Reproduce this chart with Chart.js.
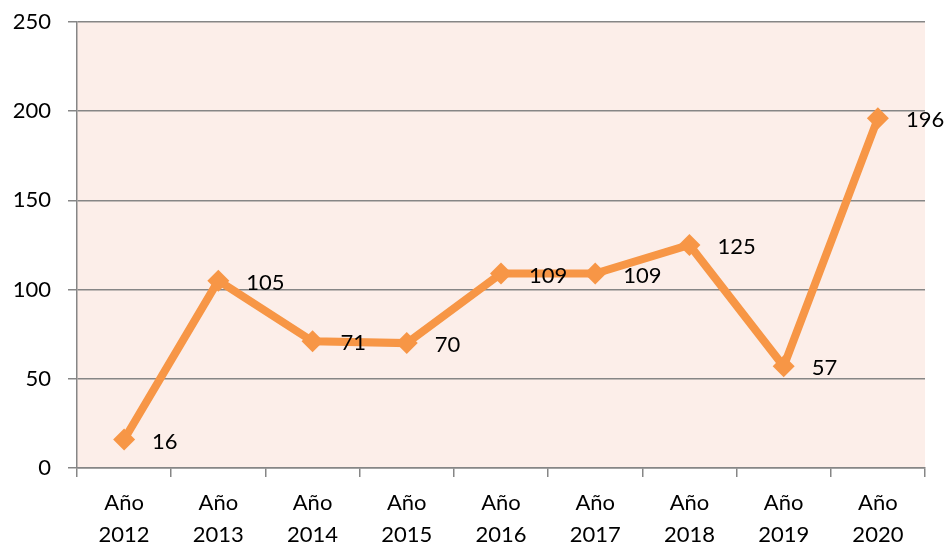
<!DOCTYPE html>
<html>
<head>
<meta charset="utf-8">
<script src="https://cdn.jsdelivr.net/npm/chart.js@4"></script>
<style>
  html, body { margin: 0; padding: 0; background: #fff; }
  #wrap { width: 950px; height: 550px; }
</style>
</head>
<body>
<div id="wrap"><canvas id="chart"></canvas></div>
<script>
// Datos del gráfico
const years = ["2012", "2013", "2014", "2015", "2016", "2017", "2018", "2019", "2020"];
const values = [16, 105, 71, 70, 109, 109, 125, 57, 196];
const yTicks = [0, 50, 100, 150, 200, 250];

const labels = years.map((y) => ["Año", y]);
const fontFamily = "Lato, 'Noto Sans', sans-serif";

// Fondo del área de trazado
const plotBackground = {
    id: "plotBackground",
    beforeDraw(chart) {
        const { ctx, chartArea } = chart;
        ctx.save();
        ctx.fillStyle = "#FCEEE9";
        ctx.fillRect(chartArea.left, chartArea.top, chartArea.right - chartArea.left, chartArea.bottom - chartArea.top);
        ctx.restore();
    },
};

// Etiquetas de valor a la derecha de cada punto
const valueLabels = {
    id: "valueLabels",
    afterDatasetsDraw(chart) {
        const { ctx } = chart;
        const meta = chart.getDatasetMeta(0);
        ctx.save();
        ctx.font = "22px " + fontFamily;
        ctx.fillStyle = "#000";
        ctx.textAlign = "left";
        ctx.textBaseline = "middle";
        meta.data.forEach((pt, i) => {
            ctx.fillText(String(values[i]), pt.x + 28, pt.y + 2);
        });
        ctx.restore();
    },
};

new Chart(document.getElementById("chart").getContext("2d"), {
    type: "line",
    data: {
        labels: labels,
        datasets: [
            {
                data: values,
                borderColor: "#F79646",
                backgroundColor: "#F79646",
                borderWidth: 8,
                pointStyle: "rectRot",
                pointRadius: 11,
                pointHoverRadius: 11,
                pointBorderWidth: 0,
                tension: 0,
            },
        ],
    },
    options: {
        responsive: true,
        maintainAspectRatio: false,
        animation: false,
        layout: { padding: { top: 22, right: 25, left: 0, bottom: 0 } },
        plugins: {
            legend: { display: false },
            tooltip: { enabled: false },
        },
        scales: {
            x: {
                offset: true,
                grid: {
                    offset: true,
                    drawOnChartArea: false,
                    drawTicks: true,
                    tickLength: 9,
                    color: "#868686",
                    lineWidth: 1.5,
                },
                border: { color: "#868686", width: 1.5 },
                ticks: {
                    color: "#000",
                    font: { size: 22, family: fontFamily, lineHeight: 1.45 },
                    maxRotation: 0,
                    padding: 10,
                },
                afterFit(scale) {
                    scale.height = 82;
                    scale.paddingTop = 0;
                },
            },
            y: {
                min: 0,
                max: 250,
                afterBuildTicks(scale) { scale.ticks = yTicks.map((v) => ({ value: v })); },
                grid: {
                    color: "#868686",
                    lineWidth: 1.5,
                    tickLength: 9,
                },
                border: { color: "#868686", width: 1.5 },
                ticks: {
                    color: "#000",
                    font: { size: 22, family: fontFamily },
                    padding: 17,
                },
                afterFit(scale) {
                    scale.width = 77;
                    scale.paddingTop = 0;
                    scale.paddingBottom = 0;
                },
            },
        },
    },
    plugins: [plotBackground, valueLabels],
});
</script>
</body>
</html>
